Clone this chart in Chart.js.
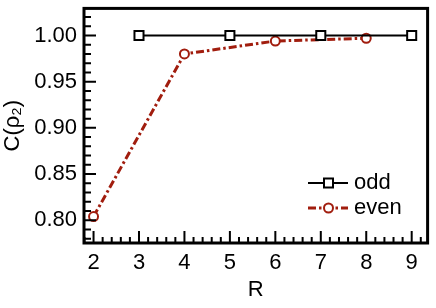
<!DOCTYPE html>
<html>
<head>
<meta charset="utf-8">
<script src="https://cdn.jsdelivr.net/npm/chart.js@4"></script>
<style>
  html, body { margin: 0; padding: 0; background: #fff; }
  #wrap { width: 436px; height: 308px; }
</style>
</head>
<body>
<div id="wrap"><canvas id="chart" width="436" height="308"></canvas></div>
<script>
const oddR = [3, 5, 7, 9];
const oddC = [1.0, 1.0, 1.0, 1.0];
const evenR = [2, 4, 6, 8];
const evenC = [0.804, 0.980, 0.994, 0.997];
const xTicks = [2, 3, 4, 5, 6, 7, 8, 9];
const yTicks = [0.80, 0.85, 0.90, 0.95, 1.00];

const RED = '#a11d0e';
const FONT = 'Liberation Sans, Arial, Helvetica, sans-serif';
const DASH = [8, 3, 2.5, 3];

// box + inward ticks (left and bottom only) + legend
const frame = {
  id: 'frame',
  afterDraw(chart) {
    const { ctx, chartArea: a, scales: { x, y } } = chart;
    ctx.save();
    ctx.strokeStyle = '#000';
    ctx.lineWidth = 2;
    ctx.beginPath();
    for (let i = 0; i <= 40; i++) {
      const v = Math.round((1.8 + i * 0.2) * 10) / 10;
      if (v < x.min || v > x.max) continue;
      const px = x.getPixelForValue(v);
      const major = Math.abs(v - Math.round(v)) < 1e-6;
      ctx.moveTo(px, a.bottom);
      ctx.lineTo(px, a.bottom - (major ? 12 : 6));
    }
    for (let i = 0; i <= 30; i++) {
      const v = Math.round((0.77 + i * 0.01) * 100) / 100;
      if (v < y.min || v > y.max) continue;
      const py = y.getPixelForValue(v);
      const major = Math.abs(v * 20 - Math.round(v * 20)) < 1e-6;
      ctx.moveTo(a.left, py);
      ctx.lineTo(a.left + (major ? 12 : 7), py);
    }
    ctx.stroke();

    ctx.lineWidth = 3;
    ctx.strokeRect(a.left, a.top, a.right - a.left, a.bottom - a.top);

    // legend
    ctx.font = '22px ' + FONT;
    ctx.textBaseline = 'middle';
    ctx.fillStyle = '#000';
    ctx.lineWidth = 2;
    ctx.strokeStyle = '#000';
    ctx.beginPath();
    ctx.moveTo(308, 183); ctx.lineTo(348, 183);
    ctx.stroke();
    ctx.fillStyle = '#fff';
    ctx.fillRect(324, 178.5, 9, 9);
    ctx.strokeRect(324, 178.5, 9, 9);
    ctx.fillStyle = '#000';
    ctx.fillText('odd', 354, 183);

    ctx.strokeStyle = RED;
    ctx.lineWidth = 3;
    ctx.setLineDash(DASH);
    ctx.beginPath();
    ctx.moveTo(308, 208); ctx.lineTo(348, 208);
    ctx.stroke();
    ctx.setLineDash([]);
    ctx.lineWidth = 2;
    ctx.fillStyle = '#fff';
    ctx.beginPath();
    ctx.arc(328.5, 208, 4.5, 0, Math.PI * 2);
    ctx.fill();
    ctx.stroke();
    ctx.fillStyle = '#000';
    ctx.fillText('even', 354, 208);
    ctx.restore();
  }
};

new Chart(document.getElementById('chart'), {
  type: 'line',
  data: {
    datasets: [
      {
        label: 'odd',
        data: oddR.map((r, i) => ({ x: r, y: oddC[i] })),
        borderColor: '#000',
        borderWidth: 2,
        pointStyle: 'rect',
        pointRadius: 6.4,
        pointBorderWidth: 2,
        pointBackgroundColor: '#fff',
        pointBorderColor: '#000'
      },
      {
        label: 'even',
        data: evenR.map((r, i) => ({ x: r, y: evenC[i] })),
        borderColor: RED,
        borderWidth: 3,
        borderDash: DASH,
        pointStyle: 'circle',
        pointRadius: 4.5,
        pointBorderWidth: 2,
        pointBackgroundColor: '#fff',
        pointBorderColor: RED
      }
    ]
  },
  options: {
    responsive: false,
    animation: false,
    layout: { padding: { top: 6, right: 8, left: 0, bottom: 0 } },
    plugins: { legend: { display: false }, tooltip: { enabled: false } },
    scales: {
      x: {
        type: 'linear',
        min: 1.79,
        max: 9.35,
        afterBuildTicks: s => { s.ticks = xTicks.map(v => ({ value: v })); },
        afterFit: s => { s.height = 65; s.paddingLeft = 0; s.paddingRight = 0; },
        grid: { display: false, drawTicks: false },
        border: { display: false },
        ticks: { padding: 7, color: '#000', font: { family: FONT, size: 22 } },
        title: { display: true, text: 'R', color: '#000', padding: { top: 0, bottom: 5 }, font: { family: FONT, size: 22 } }
      },
      y: {
        min: 0.7754,
        max: 1.0293,
        afterBuildTicks: s => { s.ticks = yTicks.map(v => ({ value: v })); },
        afterFit: s => { s.width = 84; s.paddingTop = 0; s.paddingBottom = 0; },
        grid: { display: false, drawTicks: false },
        border: { display: false },
        ticks: { padding: 7, color: '#000', font: { family: FONT, size: 22 }, callback: v => v.toFixed(2) },
        title: { display: true, text: 'C(ρ₂)', color: '#000', padding: { top: 0, bottom: 0 }, font: { family: FONT, size: 22 } }
      }
    }
  },
  plugins: [frame]
});
</script>
</body>
</html>
